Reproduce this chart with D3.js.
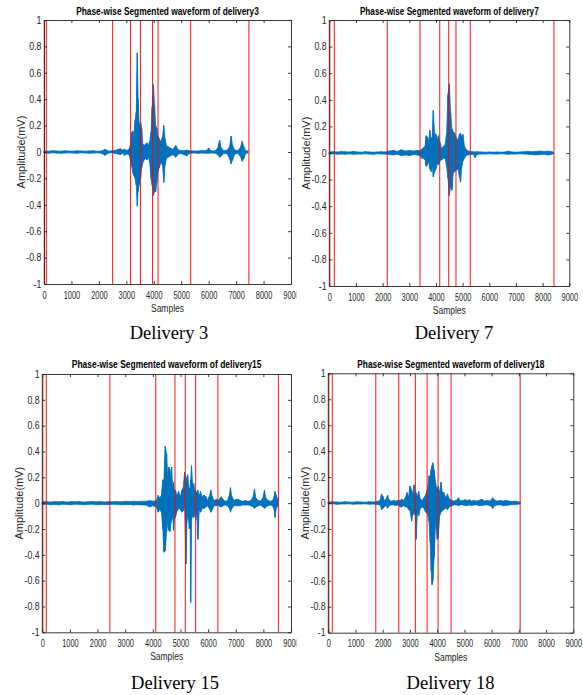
<!DOCTYPE html>
<html>
<head>
<meta charset="utf-8">
<script src="https://cdn.jsdelivr.net/npm/d3@7"></script>
<style>
  body { margin: 0; background: #fff; }
  svg { display: block; }
</style>
</head>
<body>
<svg id="chart" width="583" height="695"></svg>
<script>
// ticks shared by all four panels
const xTicks = [0, 1000, 2000, 3000, 4000, 5000, 6000, 7000, 8000, 9000]
const yTicks = [-1, -0.8, -0.6, -0.4, -0.2, 0, 0.2, 0.4, 0.6, 0.8, 1]
const deliveries = [3, 7, 15, 18]

// waveform envelopes: [sample, upper, lower] in mV
const wave3 = [
  [0, .008, -.008], [150, .006, -.01], [300, .01, -.006], [450, .008, -.008], [600, .006, -.01],
  [750, .01, -.008], [900, .008, -.006], [1050, .006, -.008], [1200, .01, -.01], [1350, .008, -.006],
  [1500, .006, -.008], [1650, .008, -.01], [1800, .01, -.008], [1950, .006, -.006], [2100, .008, -.01],
  [2220, .02, -.025], [2350, .008, -.008], [2500, .01, -.006], [2600, .012, -.012], [2700, .02, -.015],
  [2780, .025, -.02], [2860, .015, -.01], [2940, .02, -.025], [3020, .012, -.015], [3100, .02, -.02],
  [3150, .05, -.06], [3200, .15, -.11], [3240, .16, -.16], [3280, .12, -.18], [3320, .24, -.2],
  [3360, .3, -.25], [3400, .75, -.41], [3430, .4, -.3], [3470, .2, -.25], [3520, .23, -.2],
  [3560, .18, -.12], [3600, .06, -.08], [3650, .05, -.06], [3700, .06, -.05], [3750, .07, -.06],
  [3800, .05, -.04], [3850, .08, -.08], [3900, .15, -.2], [3940, .34, -.25], [3990, .51, -.33],
  [4030, .35, -.3], [4070, .2, -.3], [4110, .18, -.23], [4150, .12, -.15], [4200, .1, -.12],
  [4260, .08, -.08], [4320, .12, -.1], [4365, .2, -.23], [4410, .1, -.1], [4460, .05, -.05],
  [4520, .04, -.04], [4600, .03, -.03], [4700, .02, -.02], [4800, .05, -.04], [4900, .015, -.015],
  [5000, .012, -.012], [5100, .01, -.02], [5200, .015, -.03], [5300, .01, -.01], [5450, .008, -.008],
  [5600, .008, -.01], [5750, .012, -.008], [5900, .01, -.01], [6000, .03, -.01], [6100, .008, -.008],
  [6250, .01, -.01], [6330, .03, -.02], [6400, .09, -.04], [6460, .03, -.03], [6550, .01, -.01],
  [6680, .015, -.015], [6760, .04, -.05], [6820, .12, -.09], [6870, .05, -.06], [6950, .015, -.015],
  [7050, .01, -.01], [7150, .03, -.03], [7220, .08, -.07], [7280, .04, -.05], [7350, .01, -.01],
  [7430, .008, -.008]
]
const wave7 = [
  [0, .008, -.008], [150, .01, -.006], [300, .008, -.01], [450, .012, -.008], [600, .01, -.01],
  [750, .008, -.006], [900, .012, -.01], [1050, .008, -.008], [1200, .006, -.008], [1350, .01, -.006],
  [1500, .008, -.008], [1650, .006, -.01], [1800, .008, -.006], [1950, .01, -.008], [2100, .008, -.008],
  [2250, .015, -.012], [2400, .02, -.015], [2550, .012, -.01], [2700, .025, -.02], [2850, .015, -.015],
  [3000, .02, -.02], [3150, .015, -.012], [3300, .02, -.015], [3400, .015, -.02], [3465, .03, -.04],
  [3530, .04, -.04], [3590, .05, -.05], [3630, .13, -.1], [3680, .12, -.09], [3720, .08, -.06],
  [3770, .17, -.12], [3820, .1, -.14], [3860, .12, -.1], [3900, .32, -.18], [3950, .15, -.14],
  [4000, .14, -.12], [4050, .1, -.08], [4090, .13, -.09], [4150, .08, -.06], [4220, .03, -.05],
  [4280, .05, -.04], [4340, .06, -.04], [4400, .15, -.1], [4450, .44, -.19], [4500, .52, -.32],
  [4550, .3, -.25], [4600, .18, -.28], [4650, .16, -.15], [4700, .15, -.14], [4770, .11, -.13],
  [4830, .1, -.12], [4880, .14, -.18], [4920, .15, -.22], [4970, .12, -.1], [5010, .14, -.06],
  [5070, .05, -.04], [5130, .03, -.02], [5200, .015, -.015], [5300, .012, -.012], [5400, .01, -.01],
  [5460, .008, -.035], [5550, .01, -.01], [5700, .008, -.008], [5850, .006, -.008], [6000, .008, -.006],
  [6150, .006, -.008], [6300, .008, -.008], [6450, .006, -.006], [6600, .008, -.008], [6700, .015, -.01],
  [6850, .008, -.008], [7000, .006, -.008], [7150, .008, -.006], [7300, .01, -.008], [7450, .012, -.01],
  [7600, .01, -.012], [7750, .012, -.015], [7900, .015, -.012], [8050, .012, -.01], [8200, .015, -.015],
  [8300, .012, -.012], [8400, .008, -.008]
]
const wave15 = [
  [0, .01, -.01], [150, .012, -.008], [300, .008, -.012], [450, .012, -.01], [600, .01, -.012],
  [750, .012, -.008], [900, .008, -.01], [1050, .012, -.012], [1200, .01, -.008], [1350, .012, -.01],
  [1500, .008, -.012], [1650, .01, -.01], [1800, .012, -.008], [1950, .01, -.012], [2100, .012, -.01],
  [2250, .008, -.01], [2400, .012, -.012], [2550, .01, -.008], [2700, .012, -.01], [2850, .01, -.012],
  [3000, .014, -.012], [3150, .012, -.01], [3300, .014, -.014], [3450, .012, -.012], [3600, .015, -.014],
  [3750, .014, -.015], [3890, .02, -.03], [4000, .015, -.02], [4130, .02, -.03], [4190, .06, -.07],
  [4250, .04, -.05], [4310, .06, -.07], [4360, .18, -.2], [4400, .18, -.38], [4450, .44, -.37],
  [4500, .38, -.22], [4540, .2, -.15], [4575, .28, -.21], [4620, .26, -.22], [4650, .15, -.16],
  [4680, .28, -.13], [4720, .12, -.1], [4750, .16, -.21], [4790, .1, -.08], [4820, .1, -.11],
  [4880, .06, -.06], [4935, .09, -.04], [5000, .05, -.05], [5050, .1, -.07], [5100, .12, -.06],
  [5150, .24, -.03], [5200, .16, -.47], [5230, .2, -.15], [5260, .22, -.08], [5290, .15, -.12],
  [5320, .11, -.2], [5350, .12, -.15], [5370, .18, -.77], [5400, .29, -.13], [5440, .15, -.1],
  [5480, .15, -.11], [5520, .1, -.08], [5550, .09, -.13], [5590, .08, -.06], [5630, .1, -.28],
  [5680, .06, -.05], [5730, .09, -.07], [5790, .04, -.04], [5830, .06, -.04], [5870, .06, -.04],
  [5920, .05, -.03], [5980, .02, -.02], [6040, .05, -.04], [6100, .1, -.07], [6150, .05, -.05],
  [6220, .02, -.02], [6300, .03, -.02], [6380, .02, -.015], [6440, .04, -.03], [6480, .05, -.03],
  [6540, .03, -.02], [6620, .015, -.015], [6700, .02, -.02], [6770, .06, -.04], [6810, .12, -.07],
  [6860, .05, -.04], [6940, .02, -.02], [7020, .03, -.02], [7090, .03, -.02], [7160, .02, -.02],
  [7250, .015, -.015], [7350, .02, -.015], [7450, .015, -.015], [7550, .02, -.02], [7630, .05, -.03],
  [7680, .11, -.04], [7730, .04, -.03], [7820, .02, -.02], [7900, .015, -.015], [7980, .04, -.03],
  [8040, .1, -.04], [8090, .04, -.03], [8170, .02, -.02], [8250, .015, -.015], [8330, .02, -.02],
  [8390, .05, -.05], [8420, .09, -.11], [8470, .06, -.04], [8545, .01, -.01]
]
const wave18 = [
  [0, .008, -.008], [150, .01, -.006], [300, .008, -.01], [450, .006, -.008], [600, .01, -.008],
  [750, .008, -.006], [900, .006, -.01], [1050, .01, -.008], [1200, .008, -.008], [1350, .006, -.006],
  [1500, .01, -.01], [1650, .008, -.008], [1800, .012, -.012], [1900, .02, -.015], [1960, .07, -.05],
  [2010, .05, -.04], [2060, .02, -.03], [2120, .03, -.02], [2180, .06, -.04], [2240, .02, -.02],
  [2320, .015, -.015], [2400, .02, -.015], [2480, .015, -.02], [2560, .02, -.015], [2640, .02, -.03],
  [2700, .03, -.03], [2760, .02, -.02], [2830, .04, -.03], [2890, .08, -.03], [2950, .05, -.05],
  [3000, .13, -.06], [3060, .1, -.14], [3110, .07, -.08], [3150, .14, -.09], [3190, .06, -.06],
  [3225, .08, -.28], [3270, .05, -.07], [3320, .09, -.1], [3380, .03, -.04], [3450, .02, -.03],
  [3510, .04, -.04], [3570, .06, -.07], [3630, .1, -.08], [3670, .14, -.1], [3700, .21, -.14],
  [3740, .2, -.3], [3780, .26, -.52], [3810, .29, -.63], [3840, .31, -.6], [3890, .25, -.42],
  [3940, .16, -.14], [3970, .12, -.2], [4000, .1, -.28], [4040, .13, -.27], [4090, .08, -.1],
  [4140, .16, -.07], [4190, .08, -.06], [4250, .08, -.05], [4310, .04, -.04], [4380, .07, -.05],
  [4450, .03, -.03], [4540, .02, -.02], [4620, .015, -.015], [4700, .02, -.015], [4780, .04, -.02],
  [4860, .015, -.015], [4940, .02, -.015], [5020, .025, -.02], [5100, .02, -.02], [5180, .025, -.015],
  [5260, .015, -.02], [5350, .02, -.015], [5440, .015, -.015], [5540, .02, -.02], [5640, .03, -.02],
  [5740, .015, -.015], [5840, .02, -.015], [5940, .015, -.02], [6040, .04, -.04], [6120, .02, -.02],
  [6220, .015, -.015], [6320, .02, -.015], [6430, .015, -.02], [6530, .02, -.02], [6640, .015, -.015],
  [6750, .012, -.012], [6860, .015, -.012], [6960, .01, -.01], [7050, .008, -.008]
]

// phase boundaries (red lines), in samples
const seg3 = [10, 85, 2500, 3152, 3515, 3955, 4155, 5345, 7466]
const seg7 = [0, 187, 2175, 3400, 4140, 4477, 4750, 5288, 8425]
const seg15 = [0, 144, 2444, 4105, 4801, 5177, 5549, 6354, 8545]
const seg18 = [0, 147, 1743, 2588, 3199, 3629, 4033, 4511, 7048]

const waves = [wave3, wave7, wave15, wave18]
const segs = [seg3, seg7, seg15, seg18]

// where each panel sits on the page
const layout = [
  { x0: 44, x1: 291, y0: 20, y1: 284, titleY: 15, titleW: 183, capX: 169, capY: 339, clipR: 296.5 },
  { x0: 329.3, x1: 569.3, y0: 20, y1: 286, titleY: 15, titleW: 179, capX: 454, capY: 339, clipR: 583 },
  { x0: 42.3, x1: 291, y0: 374, y1: 632.3, titleY: 367.5, titleW: 190, capX: 175, capY: 689, clipR: 296.5 },
  { x0: 328.3, x1: 573.3, y0: 373.3, y1: 632.7, titleY: 367.5, titleW: 187, capX: 450.5, capY: 688.5, clipR: 583 }
]

const svg = d3.select("#chart")
const axisColor = "#262626"
const sans = "'Liberation Sans', Arial, Helvetica, sans-serif"

// squeeze text horizontally, the reference figure is narrower than its fonts
function squeeze(sel, f) {
  sel.each(function () {
    const w = this.getComputedTextLength()
    d3.select(this).attr("textLength", w * f).attr("lengthAdjust", "spacingAndGlyphs")
  })
}

layout.forEach((p, i) => {
  const x = d3.scaleLinear().domain([0, 9000]).range([p.x0, p.x1])
  const y = d3.scaleLinear().domain([-1, 1]).range([p.y1, p.y0])

  svg.append("clipPath").attr("id", "clip" + i)
    .append("rect").attr("x", p.clipR - 310).attr("y", p.y0 - 25).attr("width", 310).attr("height", 360)

  const g = svg.append("g").attr("clip-path", `url(#clip${i})`)

  // waveform envelope: filled band plus the zigzag between upper and lower values
  const area = d3.area().x(d => x(d[0])).y0(d => y(d[2])).y1(d => y(d[1]))
  g.append("path")
    .datum(waves[i])
    .attr("d", area)
    .attr("fill", "#0072BD")
    .attr("stroke", "#0072BD")
    .attr("stroke-width", 0.7)
    .attr("stroke-linejoin", "round")

  const pts = []
  waves[i].forEach(d => { pts.push([d[0], d[1]]); pts.push([d[0], d[2]]) })
  const line = d3.line().x(d => x(d[0])).y(d => y(d[1]))
  g.append("path")
    .datum(pts)
    .attr("d", line)
    .attr("fill", "none")
    .attr("stroke", "#0072BD")
    .attr("stroke-width", 0.8)

  // phase boundaries
  g.selectAll(".seg")
    .data(segs[i])
    .join("line")
    .attr("class", "seg")
    .attr("x1", d => x(d)).attr("x2", d => x(d))
    .attr("y1", p.y0).attr("y2", p.y1)
    .attr("stroke", "#ff0000")
    .attr("stroke-width", 1.1)
    .attr("stroke-opacity", 0.85)

  // axes box with inward ticks
  const fmt = d => String(+d.toFixed(1))
  const xb = g.append("g").attr("transform", `translate(0,${p.y1})`)
    .call(d3.axisBottom(x).tickValues(xTicks).tickSizeInner(-3).tickSizeOuter(0).tickPadding(7.6).tickFormat(d => String(d)))
  g.append("g").attr("transform", `translate(0,${p.y0})`)
    .call(d3.axisTop(x).tickValues(xTicks).tickSizeInner(-3).tickSizeOuter(0).tickFormat(""))
  const yl = g.append("g").attr("transform", `translate(${p.x0},0)`)
    .call(d3.axisLeft(y).tickValues(yTicks).tickSizeInner(-3).tickSizeOuter(0).tickPadding(2.6).tickFormat(fmt))
  g.append("g").attr("transform", `translate(${p.x1},0)`)
    .call(d3.axisRight(y).tickValues(yTicks).tickSizeInner(-3).tickSizeOuter(0).tickFormat(""))

  g.selectAll(".domain, .tick line").attr("stroke", axisColor).attr("stroke-width", 0.9)
  g.selectAll(".tick text").attr("fill", axisColor).attr("font-family", sans).attr("font-size", 10)
  squeeze(xb.selectAll(".tick text"), 0.74)
  squeeze(yl.selectAll(".tick text"), 0.88)

  // labels
  g.append("text")
    .attr("x", (p.x0 + p.x1) / 2).attr("y", p.y1 + 27.8)
    .attr("text-anchor", "middle")
    .attr("font-family", sans).attr("font-size", 10).attr("fill", axisColor)
    .attr("textLength", 33).attr("lengthAdjust", "spacingAndGlyphs")
    .text("Samples")

  g.append("text")
    .attr("transform", `translate(${p.x0 - 19},${(p.y0 + p.y1) / 2}) rotate(-90)`)
    .attr("text-anchor", "middle")
    .attr("font-family", sans).attr("font-size", 11).attr("fill", axisColor)
    .text("Amplitude(mV)")

  // title: narrowed with a scale so its box matches what is drawn
  const title = svg.append("text")
    .attr("x", 0).attr("y", 0)
    .attr("text-anchor", "middle")
    .attr("font-family", sans).attr("font-size", 10.8).attr("font-weight", "bold").attr("fill", "#000")
    .text("Phase-wise Segmented waveform of delivery" + deliveries[i])
  const sx = p.titleW / title.node().getComputedTextLength()
  title.attr("transform", `translate(${(p.x0 + p.x1) / 2},${p.titleY}) scale(${sx},1)`)

  svg.append("text")
    .attr("x", p.capX).attr("y", p.capY)
    .attr("text-anchor", "middle")
    .attr("font-family", "'Liberation Serif', 'Times New Roman', serif").attr("font-size", 18.5).attr("fill", "#000")
    .text("Delivery " + deliveries[i])
})
</script>
</body>
</html>
